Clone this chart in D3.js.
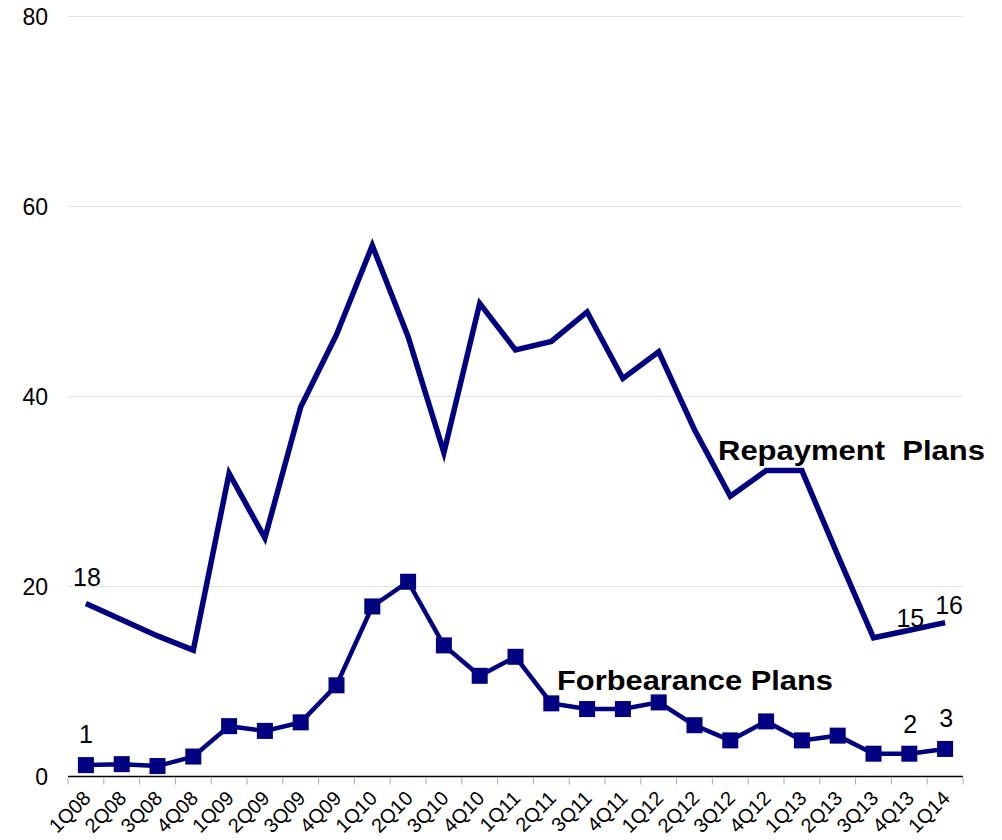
<!DOCTYPE html>
<html>
<head>
<meta charset="utf-8">
<script src="https://cdn.jsdelivr.net/npm/d3@7"></script>
<style>
  body { margin: 0; background: #fff; }
  svg { font-family: "Liberation Sans", Arial, sans-serif; }
</style>
</head>
<body>
<svg id="svg" width="1002" height="840"></svg>
<script>
// quarters on the x axis
let quarters = ["1Q08", "2Q08", "3Q08", "4Q08", "1Q09", "2Q09", "3Q09", "4Q09",
  "1Q10", "2Q10", "3Q10", "4Q10", "1Q11", "2Q11", "3Q11", "4Q11",
  "1Q12", "2Q12", "3Q12", "4Q12", "1Q13", "2Q13", "3Q13", "4Q13", "1Q14"];
// repayment plans (thick line, no markers)
let repayment = [18.2, 16.5, 14.8, 13.3, 31.9, 25.1, 38.9, 46.5,
  55.9, 46.3, 34.1, 49.8, 44.9, 45.8, 48.9, 41.9,
  44.7, 36.5, 29.5, 32.2, 32.2, 23.3, 14.6, 15.4, 16.2];
// forbearance plans (line with square markers)
let forbearance = [1.2, 1.3, 1.1, 2.1, 5.3, 4.8, 5.7, 9.6,
  17.9, 20.5, 13.8, 10.6, 12.6, 7.7, 7.1, 7.1,
  7.8, 5.4, 3.8, 5.8, 3.8, 4.3, 2.4, 2.4, 2.9];
let yTicks = [0, 20, 40, 60, 80];

let svg = d3.select("#svg");
let navy = "#000080";

let x = d3.scaleBand().domain(quarters).range([68, 963]);
let y = d3.scaleLinear().domain([0, 80]).range([776.5, 16.5]);
let cx = (d) => x(d) + x.bandwidth() / 2;

// gridlines
svg.append("g")
  .selectAll("line")
  .data(yTicks.filter((d) => d > 0))
  .enter()
  .append("line")
  .attr("x1", 68)
  .attr("x2", 963)
  .attr("y1", (d) => y(d))
  .attr("y2", (d) => y(d))
  .style("stroke", "#e3e3e3")
  .style("stroke-width", 1);

// y tick labels
svg.append("g")
  .selectAll("text")
  .data(yTicks)
  .enter()
  .append("text")
  .attr("x", 48)
  .attr("y", (d) => y(d))
  .attr("dy", "0.36em")
  .attr("text-anchor", "end")
  .style("font-size", "23px")
  .text((d) => d);

// x axis
let xAxis = svg.append("g")
  .attr("transform", "translate(0," + y(0) + ")");
xAxis.append("line")
  .attr("x1", 68).attr("x2", 963)
  .style("stroke", "#000").style("stroke-width", 1.5);
xAxis.selectAll("line.tick")
  .data(quarters.concat(["end"]))
  .enter()
  .append("line")
  .attr("class", "tick")
  .attr("x1", (d, i) => 68 + i * x.step())
  .attr("x2", (d, i) => 68 + i * x.step())
  .attr("y1", 1)
  .attr("y2", 8)
  .style("stroke", "#aaa");
xAxis.selectAll("text")
  .data(quarters)
  .enter()
  .append("text")
  .attr("text-anchor", "end")
  .attr("transform", (d) => "translate(" + (cx(d) + 6) + ",23) rotate(-45)")
  .style("font-size", "20px")
  .text((d) => d);

let line = d3.line()
  .x((d, i) => cx(quarters[i]))
  .y((d) => y(d));

// repayment line
svg.append("path")
  .attr("d", line(repayment))
  .style("fill", "none")
  .style("stroke", navy)
  .style("stroke-width", 5.5)
  .style("stroke-linejoin", "miter");

// forbearance line + markers
svg.append("path")
  .attr("d", line(forbearance))
  .style("fill", "none")
  .style("stroke", navy)
  .style("stroke-width", 4.5);
svg.append("g")
  .selectAll("rect")
  .data(forbearance)
  .enter()
  .append("rect")
  .attr("x", (d, i) => cx(quarters[i]) - 8)
  .attr("y", (d) => y(d) - 8)
  .attr("width", 16)
  .attr("height", 16)
  .style("fill", navy);

// value labels
let labels = [
  { i: 0, v: repayment[0], t: "18", dx: 1, dy: -18 },
  { i: 23, v: repayment[23], t: "15", dx: 1, dy: -3 },
  { i: 24, v: repayment[24], t: "16", dx: 4, dy: -9 },
  { i: 0, v: forbearance[0], t: "1", dx: 0, dy: -22 },
  { i: 23, v: forbearance[23], t: "2", dx: 1, dy: -21 },
  { i: 24, v: forbearance[24], t: "3", dx: 1, dy: -22 },
];
svg.append("g")
  .selectAll("text")
  .data(labels)
  .enter()
  .append("text")
  .attr("x", (d) => cx(quarters[d.i]) + d.dx)
  .attr("y", (d) => y(d.v) + d.dy)
  .attr("text-anchor", "middle")
  .style("font-size", "25px")
  .text((d) => d.t);

// series names
svg.append("text")
  .attr("x", 718).attr("y", 460)
  .attr("textLength", 267)
  .attr("lengthAdjust", "spacingAndGlyphs")
  .style("font-size", "28px").style("font-weight", "bold")
  .style("white-space", "pre")
  .text("Repayment  Plans");
svg.append("text")
  .attr("x", 557).attr("y", 690)
  .attr("textLength", 276)
  .attr("lengthAdjust", "spacingAndGlyphs")
  .style("font-size", "28px").style("font-weight", "bold")
  .text("Forbearance Plans");
</script>
</body>
</html>
